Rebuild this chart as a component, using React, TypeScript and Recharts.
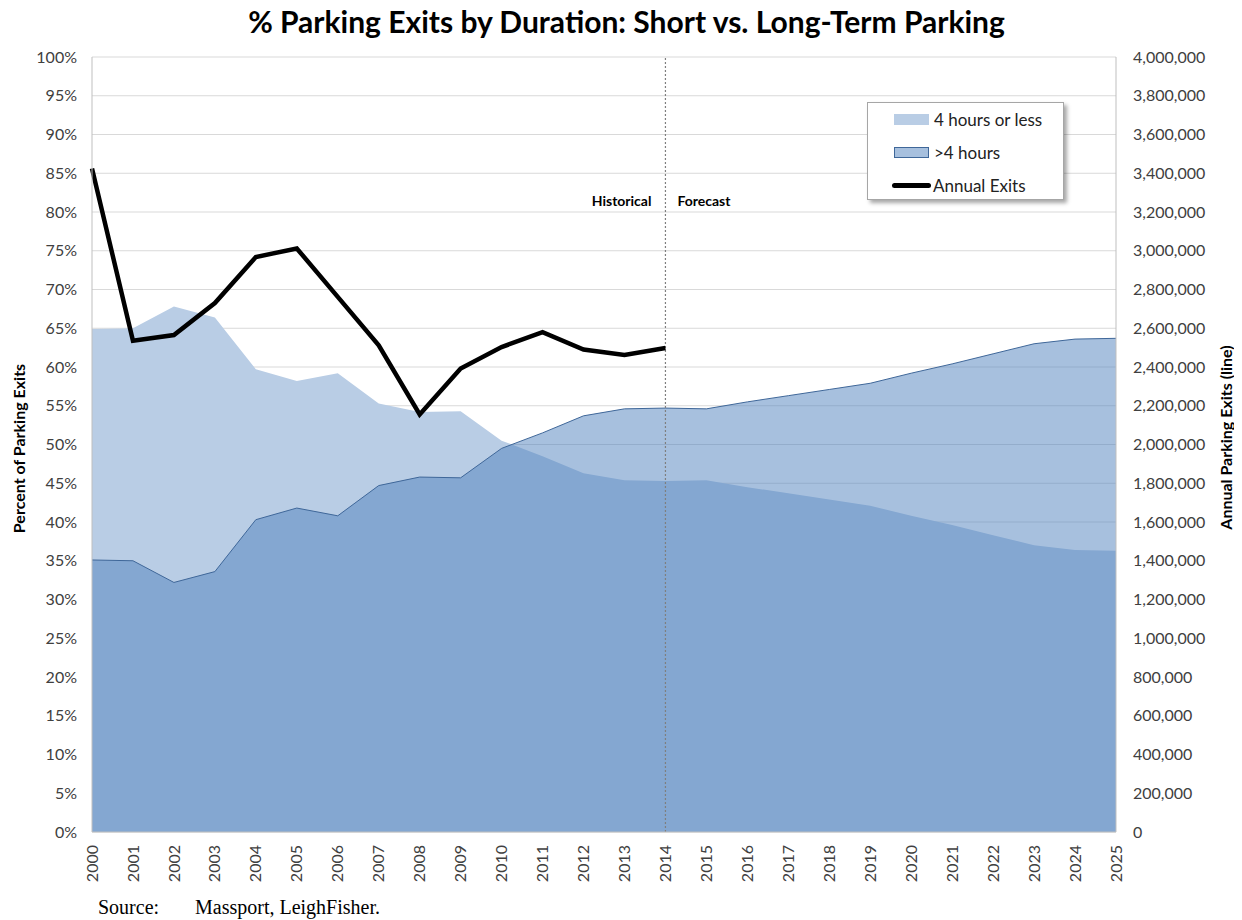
import React from "react";
import {
  ComposedChart,
  Area,
  Line,
  XAxis,
  YAxis,
  CartesianGrid,
  ReferenceLine,
  Legend,
} from "recharts";

const years = [
  2000, 2001, 2002, 2003, 2004, 2005, 2006, 2007, 2008, 2009, 2010, 2011, 2012,
  2013, 2014, 2015, 2016, 2017, 2018, 2019, 2020, 2021, 2022, 2023, 2024, 2025,
];

// % of exits, 4 hours or less
const shortTermPct = [
  64.9, 65.0, 67.8, 66.4, 59.7, 58.2, 59.2, 55.3, 54.2, 54.3, 50.5, 48.5, 46.3,
  45.4, 45.3, 45.4, 44.5, 43.7, 42.9, 42.1, 40.8, 39.6, 38.3, 37.0, 36.4, 36.3,
];

// % of exits, more than 4 hours
const longTermPct = [
  35.1, 35.0, 32.2, 33.6, 40.3, 41.8, 40.8, 44.7, 45.8, 45.7, 49.5, 51.5, 53.7,
  54.6, 54.7, 54.6, 55.5, 56.3, 57.1, 57.9, 59.2, 60.4, 61.7, 63.0, 63.6, 63.7,
];

// Annual parking exits (historical only)
const annualExits = [
  3425000, 2535000, 2565000, 2730000, 2968000, 3012000, 2762000, 2512000,
  2155000, 2392000, 2503000, 2580000, 2490000, 2462000, 2498000,
];

const pctTicks = [
  0, 5, 10, 15, 20, 25, 30, 35, 40, 45, 50, 55, 60, 65, 70, 75, 80, 85, 90, 95,
  100,
];
const exitTicks = [
  0, 200000, 400000, 600000, 800000, 1000000, 1200000, 1400000, 1600000,
  1800000, 2000000, 2200000, 2400000, 2600000, 2800000, 3000000, 3200000,
  3400000, 3600000, 3800000, 4000000,
];

const splitYear = 2014;

const data = years.map((y, i) => ({
  year: y,
  short: shortTermPct[i],
  long: longTermPct[i],
  exits: i < annualExits.length ? annualExits[i] : null,
}));

const FONT = "Lato, 'Noto Sans', sans-serif";
const TICK_COLOR = "#404040";
const LIGHT = "#B9CDE5";
const MID = "#4F81BD";
const MID_STROKE = "#3F6799";

const XTick = (props: any) => {
  const { x, y, payload } = props;
  return (
    <text
      x={x}
      y={y}
      transform={`rotate(-90, ${x}, ${y})`}
      textAnchor="end"
      dy="0.35em"
      fontFamily={FONT}
      fontSize={16}
      fill={TICK_COLOR}
    >
      {payload.value}
    </text>
  );
};

const LeftTitle = (props: any) => {
  const vb = props.viewBox || { x: 0, y: 49, width: 84, height: 775 };
  const cx = vb.x + 11;
  const cy = vb.y + vb.height / 2 + 4;
  return (
    <text
      x={cx}
      y={cy}
      transform={`rotate(-90, ${cx}, ${cy})`}
      textAnchor="middle"
      dy="0.35em"
      fontFamily={FONT}
      fontWeight={700}
      fontSize={16}
      fill="#000"
    >
      Percent of Parking Exits
    </text>
  );
};

const RightTitle = (props: any) => {
  const vb = props.viewBox || { x: 1108, y: 49, width: 118, height: 775 };
  const cx = vb.x + 110;
  const cy = vb.y + vb.height / 2 - 7;
  return (
    <text
      x={cx}
      y={cy}
      transform={`rotate(-90, ${cx}, ${cy})`}
      textAnchor="middle"
      dy="0.35em"
      fontFamily={FONT}
      fontWeight={700}
      fontSize={16}
      fill="#000"
    >
      Annual Parking Exits (line)
    </text>
  );
};

const PhaseLabels = (props: any) => {
  const vb = props.viewBox || { x: 658, y: 49, width: 0, height: 775 };
  const x = vb.x;
  const y = vb.y + 144;
  return (
    <g>
      <text
        x={x - 14}
        y={y}
        textAnchor="end"
        dy="0.35em"
        fontFamily={FONT}
        fontWeight={700}
        fontSize={14}
        fill="#000"
      >
        Historical
      </text>
      <text
        x={x + 12}
        y={y}
        textAnchor="start"
        dy="0.35em"
        fontFamily={FONT}
        fontWeight={700}
        fontSize={14}
        fill="#000"
      >
        Forecast
      </text>
    </g>
  );
};

const legendItems = [
  { key: "short", label: "4 hours or less", kind: "light" },
  { key: "long", label: ">4 hours", kind: "mid" },
  { key: "exits", label: "Annual Exits", kind: "line" },
];

const LegendBox = () => (
  <div
    style={{
      width: 197,
      height: 98,
      boxSizing: "border-box",
      border: "1px solid #A6A6A6",
      background: "#fff",
      boxShadow: "3px 3px 4px rgba(0,0,0,0.35)",
      position: "relative",
      fontFamily: FONT,
      fontSize: 17,
      color: "#222",
    }}
  >
    {legendItems.map((it, i) => (
      <div
        key={it.key}
        style={{
          position: "absolute",
          left: 0,
          top: i * 33,
          height: 33,
          width: "100%",
          display: "flex",
          alignItems: "center",
        }}
      >
        {it.kind === "line" ? (
          <div
            style={{
              marginLeft: 24,
              width: 39,
              height: 5,
              borderRadius: 3,
              background: "#000",
            }}
          />
        ) : (
          <div
            style={{
              marginLeft: 26,
              width: 35,
              height: 11,
              boxSizing: "border-box",
              background: it.kind === "light" ? LIGHT : "#A7C0DE",
              border: it.kind === "mid" ? `1px solid ${MID_STROKE}` : "none",
            }}
          />
        )}
        <span style={{ marginLeft: it.kind === "line" ? 2 : 5, whiteSpace: "nowrap" }}>
          {it.label}
        </span>
      </div>
    ))}
  </div>
);

export default function App() {
  return (
    <div style={{ position: "relative", width: 1226, height: 912 }}>
      <ComposedChart
        width={1226}
        height={904}
        data={data}
        margin={{ top: 49, right: 0, bottom: 20, left: 0 }}
      >
        <CartesianGrid
          yAxisId="left"
          horizontal={true}
          vertical={false}
          stroke="#D9D9D9"
        />
        <XAxis
          dataKey="year"
          type="number"
          domain={[2000, 2025]}
          ticks={years}
          interval={0}
          allowDecimals={false}
          tick={<XTick />}
          tickLine={false}
          tickSize={6}
          tickMargin={7}
          height={60}
          axisLine={{ stroke: "#BFBFBF" }}
        />
        <YAxis
          yAxisId="left"
          orientation="left"
          domain={[0, 100]}
          ticks={pctTicks}
          interval={0}
          width={84}
          tickFormatter={(v: number) => `${v}%`}
          tick={{ fontFamily: FONT, fontSize: 16, fill: TICK_COLOR }}
          tickLine={false}
          tickSize={6}
          tickMargin={9}
          axisLine={{ stroke: "#BFBFBF" }}
          label={{ content: <LeftTitle /> }}
        />
        <YAxis
          yAxisId="right"
          orientation="right"
          domain={[0, 4000000]}
          ticks={exitTicks}
          interval={0}
          width={118}
          tickFormatter={(v: number) => v.toLocaleString("en-US")}
          tick={{
            fontFamily: FONT,
            fontSize: 16,
            fill: TICK_COLOR,
            textAnchor: "start",
          }}
          tickLine={false}
          tickSize={6}
          tickMargin={11}
          axisLine={{ stroke: "#BFBFBF" }}
          label={{ content: <RightTitle /> }}
        />
        <Area
          yAxisId="left"
          type="linear"
          dataKey="short"
          name="4 hours or less"
          fill={LIGHT}
          fillOpacity={1}
          stroke="none"
          isAnimationActive={false}
          dot={false}
          activeDot={false}
        />
        <Area
          yAxisId="left"
          type="linear"
          dataKey="long"
          name=">4 hours"
          fill={MID}
          fillOpacity={0.5}
          stroke={MID_STROKE}
          strokeWidth={1}
          isAnimationActive={false}
          dot={false}
          activeDot={false}
        />
        <ReferenceLine
          yAxisId="left"
          x={splitYear}
          stroke="#7F7F7F"
          strokeWidth={1.2}
          strokeDasharray="2 2"
          label={<PhaseLabels />}
        />
        <Line
          yAxisId="right"
          type="linear"
          dataKey="exits"
          name="Annual Exits"
          stroke="#000"
          strokeWidth={4.5}
          strokeLinejoin="miter"
          dot={false}
          activeDot={false}
          connectNulls={false}
          isAnimationActive={false}
        />
        <Legend
          layout="vertical"
          align="center"
          verticalAlign="middle"
          content={<LegendBox />}
          wrapperStyle={{ left: 859, top: 94, width: 197, height: 98 }}
        />
      </ComposedChart>
      <svg
        width={1226}
        height={912}
        style={{ position: "absolute", left: 0, top: 0, pointerEvents: "none", overflow: "visible" }}
      >
        <text
          x={618.5}
          y={25}
          textAnchor="middle"
          fontFamily={FONT}
          fontWeight={700}
          fontSize={30}
          fill="#000"
        >
          % Parking Exits by Duration: Short vs. Long-Term Parking
        </text>
        <text
          x={90}
          y={906}
          fontFamily="'Liberation Serif', 'Times New Roman', serif"
          fontSize={20}
          fill="#000"
        >
          Source:
        </text>
        <text
          x={187}
          y={906}
          fontFamily="'Liberation Serif', 'Times New Roman', serif"
          fontSize={20}
          fill="#000"
        >
          Massport, LeighFisher.
        </text>
      </svg>
    </div>
  );
}
